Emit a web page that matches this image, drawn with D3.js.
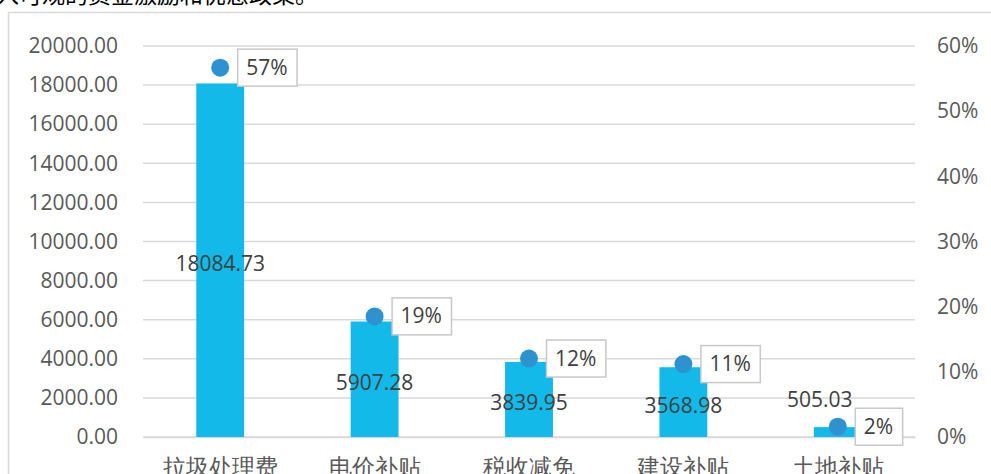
<!DOCTYPE html>
<html>
<head>
<meta charset="utf-8">
<script src="https://cdn.jsdelivr.net/npm/d3@7"></script>
<style>
  body { margin: 0; background: #fff; overflow: hidden; }
  .tick text { font-family: "Open Sans", "Liberation Sans", sans-serif; }
</style>
</head>
<body>
<svg id="chart" width="991" height="474"></svg>
<script>
const categories = ["拉圾处理费", "电价补贴", "税收减免", "建设补贴", "土地补贴"];
const amounts = [18084.73, 5907.28, 3839.95, 3568.98, 505.03];
const shares = [0.5668, 0.1851, 0.1204, 0.1119, 0.0158];
const shareLabels = ["57%", "19%", "12%", "11%", "2%"];
const leftTicks = [0, 2000, 4000, 6000, 8000, 10000, 12000, 14000, 16000, 18000, 20000];
const rightTicks = [0, 0.1, 0.2, 0.3, 0.4, 0.5, 0.6];

const svg = d3.select("#chart");
const plotLeft = 143, plotRight = 915, plotTop = 46, plotBottom = 437;

// page text above the chart, clipped by the window
svg.append("text")
    .attr("x", -4).attr("y", 3)
    .attr("font-family", "Noto Sans CJK SC")
    .attr("font-size", 23).attr("fill", "#000")
    .text("入可观的资金激励和优惠政策。");

// chart frame
svg.append("rect")
    .attr("x", 8.5).attr("y", 12.5)
    .attr("width", 1100).attr("height", 600)
    .attr("fill", "none").attr("stroke", "#d9d9d9").attr("stroke-width", 1.5);

const x = d3.scaleBand().domain(categories).range([plotLeft, plotRight]).paddingInner(0.69).paddingOuter(0.345);
const y = d3.scaleLinear().domain([0, 20000]).range([plotBottom, plotTop]);
const y2 = d3.scaleLinear().domain([0, 0.6]).range([plotBottom, plotTop]);
const cx = d => x(d) + x.bandwidth() / 2;

// gridlines
svg.append("g").selectAll("line")
    .data(leftTicks)
    .join("line")
    .attr("x1", plotLeft).attr("x2", plotRight)
    .attr("y1", d => y(d)).attr("y2", d => y(d))
    .attr("stroke", "#d9d9d9").attr("stroke-width", 1.5);

// left axis
const yAxis = svg.append("g")
    .attr("transform", `translate(${118},0)`)
    .call(d3.axisLeft(y).tickValues(leftTicks).tickFormat(d3.format(".2f")).tickSize(0).tickPadding(0));
yAxis.select(".domain").remove();
yAxis.selectAll("text").attr("font-size", 21).attr("fill", "#595959");

// right axis
const y2Axis = svg.append("g")
    .attr("transform", `translate(${937},0)`)
    .call(d3.axisRight(y2).tickValues(rightTicks).tickFormat(d3.format(".0%")).tickSize(0).tickPadding(0));
y2Axis.select(".domain").remove();
y2Axis.selectAll("text").attr("font-size", 21).attr("fill", "#595959");

// bottom axis
const xAxis = svg.append("g")
    .attr("transform", `translate(0,${plotBottom})`)
    .call(d3.axisBottom(x).tickSize(0).tickPadding(17));
xAxis.select(".domain").attr("stroke", "#d9d9d9").attr("stroke-width", 1.5);
xAxis.selectAll("text")
    .attr("font-family", "Noto Sans CJK SC")
    .attr("font-size", 23).attr("fill", "#595959")
    .attr("dy", "0.9em");

// bars
svg.append("g").selectAll("rect")
    .data(categories)
    .join("rect")
    .attr("x", d => x(d))
    .attr("y", (d, i) => y(amounts[i]))
    .attr("width", x.bandwidth())
    .attr("height", (d, i) => plotBottom - y(amounts[i]))
    .attr("fill", "#13b9e8");

// value labels: centred in the bar, above it when the bar is too short
svg.append("g").selectAll("text")
    .data(categories)
    .join("text")
    .attr("x", (d, i) => plotBottom - y(amounts[i]) < 40 ? cx(d) - 18 : cx(d))
    .attr("y", (d, i) => {
        const h = plotBottom - y(amounts[i]);
        return h < 40 ? y(amounts[i]) - 20 : y(amounts[i]) + h / 2 + 11;
    })
    .attr("text-anchor", "middle")
    .attr("font-family", "Open Sans")
    .attr("font-size", 21).attr("fill", "#404040")
    .text((d, i) => amounts[i].toFixed(2));

// share markers
svg.append("g").selectAll("circle")
    .data(categories)
    .join("circle")
    .attr("cx", d => cx(d))
    .attr("cy", (d, i) => y2(shares[i]))
    .attr("r", 9)
    .attr("fill", "#2e92d0");

// share labels in boxes
const box = svg.append("g").selectAll("g")
    .data(categories)
    .join("g")
    .attr("transform", (d, i) => `translate(${cx(d) + 17},${y2(shares[i])})`);
box.append("text")
    .attr("x", 9).attr("y", 7)
    .attr("font-family", "Open Sans")
    .attr("font-size", 21).attr("fill", "#404040")
    .text((d, i) => shareLabels[i]);
box.insert("rect", "text")
    .attr("x", 0.5).attr("y", -18.5)
    .attr("width", function () { return this.parentNode.querySelector("text").getComputedTextLength() + 18; })
    .attr("height", 37)
    .attr("fill", "#fff").attr("stroke", "#c8c8c8").attr("stroke-width", 1.5);
</script>
</body>
</html>
